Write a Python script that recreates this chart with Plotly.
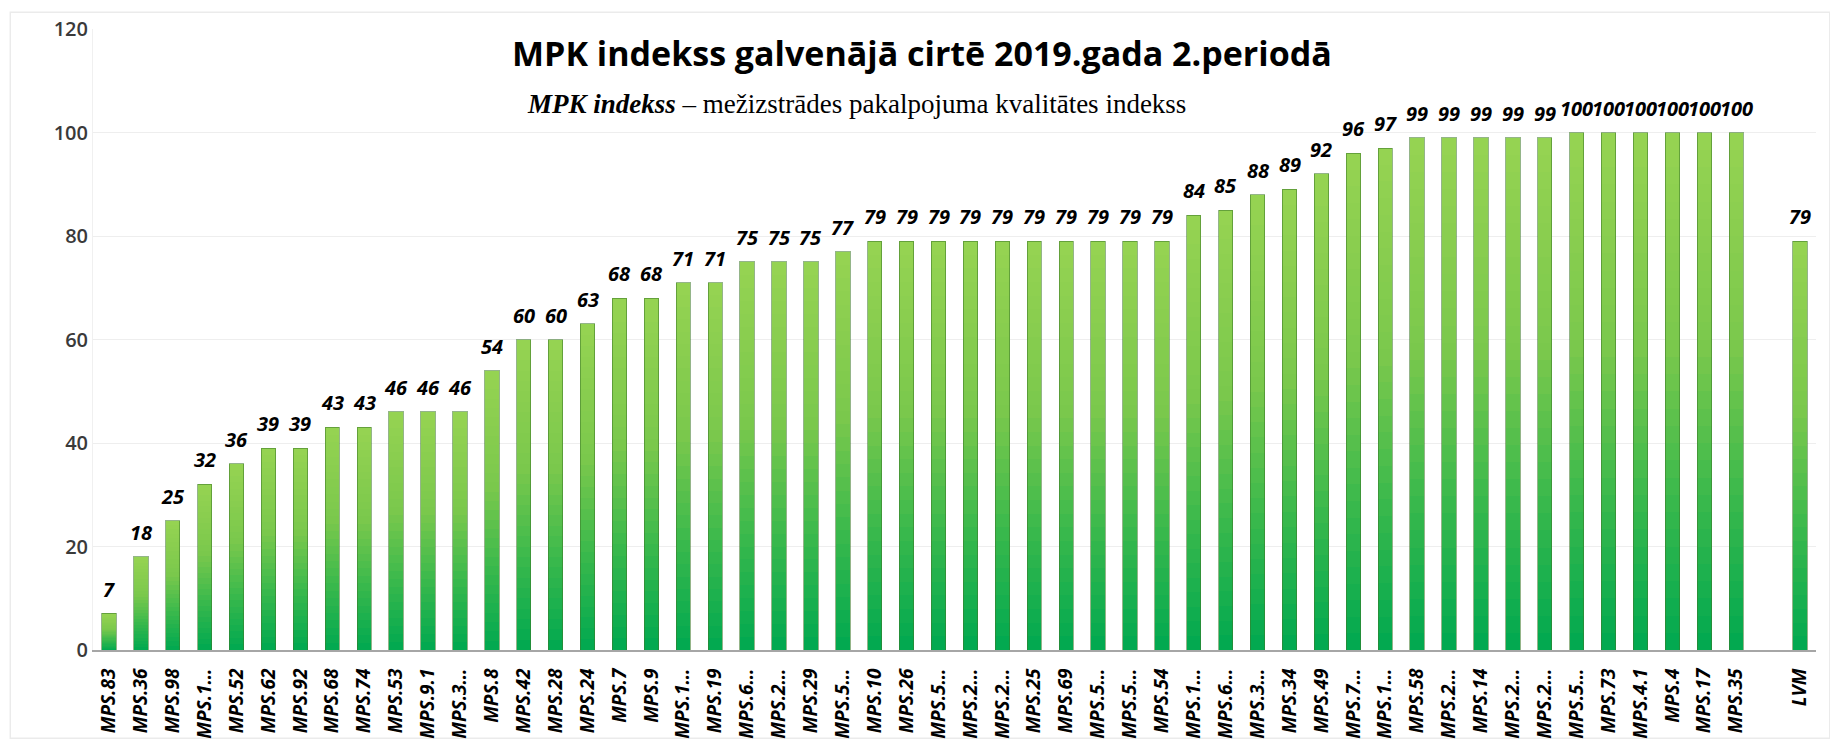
import plotly.graph_objects as go

categories = ["MPS.83", "MPS.36", "MPS.98", "MPS.1…", "MPS.52", "MPS.62", "MPS.92", "MPS.68",
              "MPS.74", "MPS.53", "MPS.9.1", "MPS.3…", "MPS.8", "MPS.42", "MPS.28", "MPS.24",
              "MPS.7", "MPS.9", "MPS.1…", "MPS.19", "MPS.6…", "MPS.2…", "MPS.29", "MPS.5…",
              "MPS.10", "MPS.26", "MPS.5…", "MPS.2…", "MPS.2…", "MPS.25", "MPS.69", "MPS.5…",
              "MPS.5…", "MPS.54", "MPS.1…", "MPS.6…", "MPS.3…", "MPS.34", "MPS.49", "MPS.7…",
              "MPS.1…", "MPS.58", "MPS.2…", "MPS.14", "MPS.2…", "MPS.2…", "MPS.5…", "MPS.73",
              "MPS.4.1", "MPS.4", "MPS.17", "MPS.35", "", "LVM"]
values = [7, 18, 25, 32, 36, 39, 39, 43, 43, 46, 46, 46, 54, 60, 60, 63, 68, 68, 71, 71, 75, 75,
          75, 77, 79, 79, 79, 79, 79, 79, 79, 79, 79, 79, 84, 85, 88, 89, 92, 96, 97, 99, 99, 99,
          99, 99, 100, 100, 100, 100, 100, 100, None, 79]
y_ticks = [0, 20, 40, 60, 80, 100, 120]

title_text = "MPK indekss galvenājā cirtē 2019.gada 2.periodā"
subtitle_text = "<b><i>MPK indekss</i></b> – mežizstrādes pakalpojuma kvalitātes indekss"

xs = list(range(len(categories)))
vals = [v if v is not None else 0 for v in values]

# vertical gradient per bar, simulated with stacked slices
stops = [(0.0, (0, 168, 80)), (0.28, (55, 184, 76)), (0.58, (122, 200, 76)), (1.0, (150, 211, 82))]


def grad(f):
    for (f0, c0), (f1, c1) in zip(stops[:-1], stops[1:]):
        if f <= f1:
            t = (f - f0) / (f1 - f0)
            return "rgb(%d,%d,%d)" % tuple(round(a + (b - a) * t) for a, b in zip(c0, c1))
    return "rgb(%d,%d,%d)" % stops[-1][1]


N = 30
fig = go.Figure()
for k in range(N):
    f = (k + 0.5) / N
    fig.add_trace(go.Bar(
        x=xs, y=[v / N for v in vals],
        marker=dict(color=grad(f), line=dict(width=0)),
        hoverinfo="skip", showlegend=False,
    ))

# outline overlay on a twin axis
fig.add_trace(go.Bar(
    x=xs, y=vals, xaxis="x2",
    marker=dict(color="rgba(0,0,0,0)", line=dict(color="rgba(60,120,40,0.55)", width=1)),
    hoverinfo="skip", showlegend=False,
))

for x, v in zip(xs, values):
    if v is None:
        continue
    fig.add_annotation(x=x, y=v, text="<b><i>%d</i></b>" % v, showarrow=False,
                       yanchor="bottom", yshift=9,
                       font=dict(family="Open Sans", size=20, color="black"))

fig.add_annotation(xref="paper", yref="paper", x=0.481, y=0.961,
                   text="<b>" + title_text + "</b>", showarrow=False, yanchor="middle",
                   font=dict(family="Open Sans", size=34, color="black"))
fig.add_annotation(xref="paper", yref="paper", x=0.443, y=0.879,
                   text=subtitle_text, showarrow=False, yanchor="middle",
                   font=dict(family="Liberation Serif", size=27, color="black"))

# outer chart border
fig.add_shape(type="rect", xref="paper", yref="paper", x0=-0.048, x1=1.008, y0=-0.142, y1=1.027,
              line=dict(color="#ebebeb", width=1.5), layer="below")

# page body has an 8px margin; size and margins compensate for it
fig.update_layout(
    width=1830, height=735,
    margin=dict(l=85, r=22, t=21, b=93, autoexpand=False),
    paper_bgcolor="white", plot_bgcolor="white",
    barmode="stack", bargap=0.55,
    xaxis=dict(range=[-0.5, len(categories) - 0.5], tickmode="array", tickvals=xs,
               ticktext=["<b><i>%s</i></b>" % c for c in categories], tickangle=-90,
               tickfont=dict(family="Open Sans", size=19, color="black"),
               showline=True, linecolor="#a6a6a6", linewidth=2, showgrid=False,
               ticks="", ticklabelstandoff=9, zeroline=False, automargin=False),
    xaxis2=dict(range=[-0.5, len(categories) - 0.5], overlaying="x", visible=False, matches="x"),
    yaxis=dict(range=[0, 120], tickmode="array", tickvals=y_ticks,
               tickfont=dict(family="Open Sans", size=20, color="#3a3a3a", weight=600),
               showgrid=True, gridcolor="#eeeeee", gridwidth=1, zeroline=False, automargin=False,
               ticks="", ticklabelstandoff=0, showline=True, linecolor="#f0f0f0", mirror=False),
)

fig.write_html("out.html")
